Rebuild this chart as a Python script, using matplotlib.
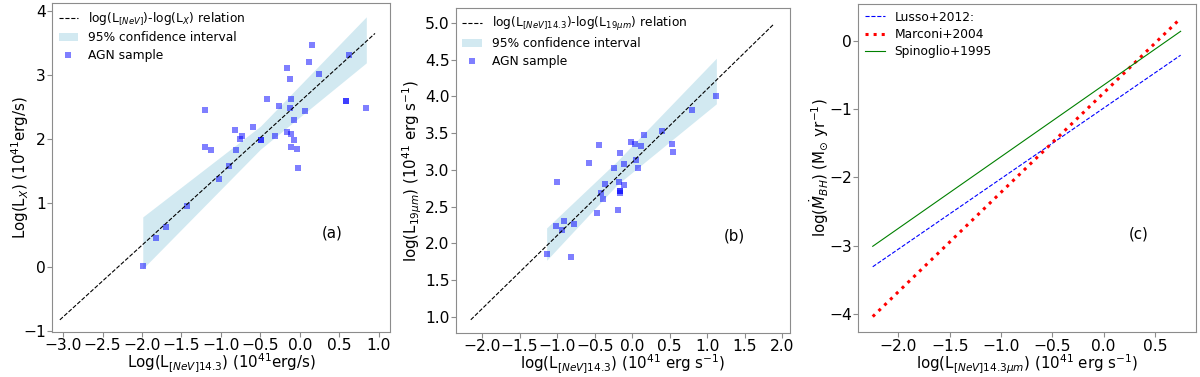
import matplotlib
matplotlib.use("Agg")
import matplotlib.pyplot as plt
import numpy as np

# ---------------- Panel (a) data ----------------
a_x = [-1.99, -1.82, -1.69, -1.43, -1.03, -0.90, -0.81, -0.82, -0.76, -0.73,
       -1.20, -1.13, -1.20, -0.59, -0.49, -0.49, -0.42, -0.31, -0.26, -0.16,
       -0.13, -0.11, -0.12, -0.08, -0.17, -0.11, -0.08, -0.11, -0.04, -0.03,
       0.06, 0.11, 0.15, 0.24, 0.62, 0.58, 0.58, 0.84]
a_y = [0.01, 0.45, 0.63, 0.95, 1.37, 1.57, 1.83, 2.14, 2.00, 2.04,
       1.87, 1.83, 2.46, 2.18, 1.99, 1.99, 2.63, 2.04, 2.52, 3.11,
       2.94, 2.63, 2.49, 2.30, 2.11, 2.07, 1.99, 1.87, 1.85, 1.54,
       2.43, 3.20, 3.47, 3.02, 3.32, 2.60, 2.60, 2.49]
a_line_x = [-3.04, 0.95]
a_line_y = [-0.83, 3.65]
a_band_x = [-1.99, -0.50, 0.84]
a_band_lo = [-0.03, 1.84, 3.19]
a_band_hi = [0.78, 2.20, 3.91]

# ---------------- Panel (b) data ----------------
b_x = [-1.14, -0.82, -1.01, -0.91, -0.93, -0.78, -1.00, -0.47, -0.39, -0.41,
       -0.36, -0.58, -0.44, -0.24, -0.19, -0.18, -0.16, -0.16, -0.16, -0.11,
       -0.16, -0.11, -0.01, 0.04, 0.11, 0.05, 0.07, 0.15, 0.39, 0.53,
       0.54, 0.80, 1.12]
b_y = [1.85, 1.81, 2.24, 2.31, 2.18, 2.26, 2.84, 2.42, 2.60, 2.68,
       2.81, 3.10, 3.34, 3.03, 2.46, 2.83, 2.71, 2.71, 2.68, 2.79,
       3.23, 3.08, 3.38, 3.35, 3.33, 3.14, 3.03, 3.47, 3.53, 3.35,
       3.25, 3.82, 4.00]
b_line_x = [-2.15, 1.89]
b_line_y = [0.96, 4.99]
b_band_x = [-1.14, -0.20, 1.12]
b_band_lo = [1.77, 2.80, 3.90]
b_band_hi = [2.21, 3.12, 4.52]

# ---------------- Panel (c) data ----------------
c_x = [-2.25, 0.75]
c_lusso = [-3.31, -0.21]
c_marconi = [-4.04, 0.33]
c_spinoglio = [-3.01, 0.14]

TICK_FS = 11.2
LABEL_FS = 10.8
LEG_FS = 8.8
SPINE_C = "0.55"

fig = plt.figure(figsize=(12, 3.77), dpi=100)
axA = fig.add_axes([0.0433, 0.1194, 0.2817, 0.8716])
axB = fig.add_axes([0.3798, 0.1167, 0.2785, 0.8613])
axC = fig.add_axes([0.7153, 0.1186, 0.2814, 0.8708])


def style(ax, ylab_x):
    for s in ax.spines.values():
        s.set_color(SPINE_C)
    ax.tick_params(labelsize=TICK_FS, color=SPINE_C, length=3.5, pad=1.0)
    ax.yaxis.set_label_coords(ylab_x, 0.5)
    ax.xaxis.set_label_coords(0.5, -0.062)
    ax.legend(loc="upper left", frameon=False, fontsize=LEG_FS, borderaxespad=0.15,
              handlelength=1.6, handletextpad=0.8, labelspacing=0.35)


# Panel (a)
axA.plot(a_line_x, a_line_y, "k--", lw=0.8, label=r"log(L$_{[NeV]}$)-log(L$_X$) relation")
axA.fill_between(a_band_x, a_band_lo, a_band_hi, color="lightblue", alpha=0.55, lw=0,
                 label="95% confidence interval")
axA.scatter(a_x, a_y, marker="s", s=25, color="blue", alpha=0.5, linewidths=0,
            label="AGN sample")
axA.set_xlim(-3.14, 1.14)
axA.set_ylim(-1.02, 4.12)
axA.set_xticks(np.arange(-3.0, 1.01, 0.5))
axA.set_yticks([-1, 0, 1, 2, 3, 4])
axA.set_xlabel(r"Log(L$_{[NeV]14.3}$) (10$^{41}$erg/s)", fontsize=LABEL_FS)
axA.set_ylabel(r"Log(L$_X$) (10$^{41}$erg/s)", fontsize=LABEL_FS, va="center")
axA.text(0.83, 0.30, "(a)", transform=axA.transAxes, fontsize=LABEL_FS, ha="center", va="center")
style(axA, -0.095)

# Panel (b)
axB.plot(b_line_x, b_line_y, "k--", lw=0.8,
         label=r"log(L$_{[NeV]14.3}$)-log(L$_{19\mu m}$) relation")
axB.fill_between(b_band_x, b_band_lo, b_band_hi, color="lightblue", alpha=0.55, lw=0,
                 label="95% confidence interval")
axB.scatter(b_x, b_y, marker="s", s=25, color="blue", alpha=0.5, linewidths=0,
            label="AGN sample")
axB.set_xlim(-2.35, 2.10)
axB.set_ylim(0.78, 5.20)
axB.set_xticks(np.arange(-2.0, 2.01, 0.5))
axB.set_yticks(np.arange(1.0, 5.01, 0.5))
axB.set_xlabel(r"log(L$_{[NeV]14.3}$) (10$^{41}$ erg s$^{-1}$)", fontsize=LABEL_FS)
axB.set_ylabel(r"log(L$_{19\mu m}$) (10$^{41}$ erg s$^{-1}$)", fontsize=LABEL_FS, va="center")
axB.text(0.835, 0.30, "(b)", transform=axB.transAxes, fontsize=LABEL_FS, ha="center", va="center")
style(axB, -0.13)

# Panel (c)
axC.plot(c_x, c_lusso, color="blue", ls="--", lw=0.8, label="Lusso+2012:")
axC.plot(c_x, c_marconi, color="red", ls=":", lw=2.2, label="Marconi+2004")
axC.plot(c_x, c_spinoglio, color="green", ls="-", lw=0.8, label="Spinoglio+1995")
axC.set_xlim(-2.39, 0.90)
axC.set_ylim(-4.27, 0.54)
axC.set_xticks(np.arange(-2.0, 0.51, 0.5))
axC.set_yticks([-4, -3, -2, -1, 0])
axC.set_xlabel(r"log(L$_{[NeV]14.3\mu m}$) (10$^{41}$ erg s$^{-1}$)", fontsize=LABEL_FS)
axC.set_ylabel(r"log($\dot{M}_{BH}$) (M$_{\odot}$ yr$^{-1}$)", fontsize=LABEL_FS, va="center")
axC.text(0.83, 0.30, "(c)", transform=axC.transAxes, fontsize=LABEL_FS, ha="center", va="center")
style(axC, -0.115)

fig.savefig("out.png", dpi=100)
